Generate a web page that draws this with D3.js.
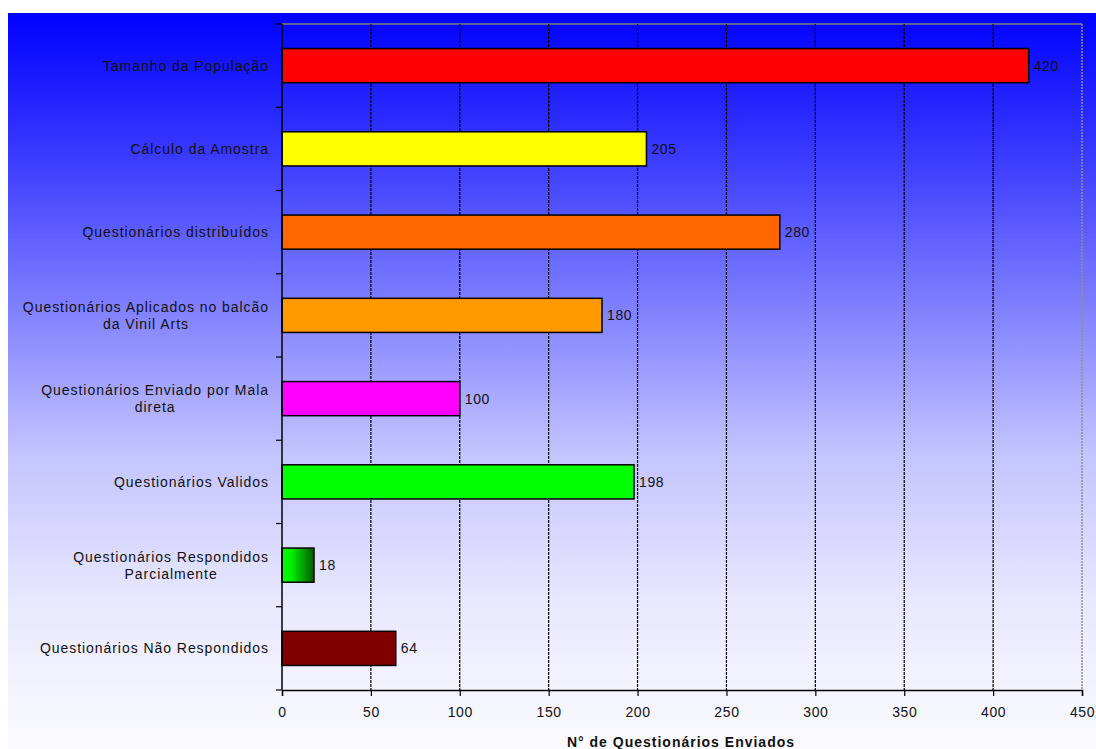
<!DOCTYPE html>
<html>
<head>
<meta charset="utf-8">
<script src="https://cdn.jsdelivr.net/npm/d3@7"></script>
<style>
  html, body { margin: 0; padding: 0; background: #fff; }
  svg text { font-family: "Liberation Sans", Arial, sans-serif; }
</style>
</head>
<body>
<div id="chart"></div>
<script>
(function () {
  'use strict';

  var categories = [
    ['Tamanho da População'],
    ['Cálculo da Amostra'],
    ['Questionários distribuídos'],
    ['Questionários Aplicados no balcão', 'da Vinil Arts'],
    ['Questionários Enviado por Mala', 'direta'],
    ['Questionários Validos'],
    ['Questionários Respondidos', 'Parcialmente'],
    ['Questionários Não Respondidos']
  ];
  var values = [420, 205, 280, 180, 100, 198, 18, 64];
  var barColors = ['#ff0000', '#ffff00', '#ff6600', '#ff9900', '#ff00ff', '#00ff00', 'url(#greenShade)', '#800000'];
  var xTicks = [0, 50, 100, 150, 200, 250, 300, 350, 400, 450];
  var xTitle = 'N° de Questionários Enviados';

  var width = 1096, height = 749;
  var margin = { top: 24, right: 14, bottom: 59, left: 282 };
  var iw = width - margin.left - margin.right;
  var ih = height - margin.top - margin.bottom;

  var svg = d3.select('#chart').append('svg').attr('width', width).attr('height', height);
  var defs = svg.append('defs');

  var bg = defs.append('linearGradient').attr('id', 'bgGrad')
    .attr('x1', 0).attr('y1', 0).attr('x2', 0).attr('y2', 1);
  [[0, '#0000ff'], [0.2, '#3c3cff'], [0.4, '#8080ff'], [0.6, '#c4c4ff'], [0.8, '#e8e8ff'], [1, '#fbfbff']]
    .forEach(function (s) { bg.append('stop').attr('offset', s[0]).attr('stop-color', s[1]); });

  var gs = defs.append('linearGradient').attr('id', 'greenShade')
    .attr('x1', 0).attr('y1', 0).attr('x2', 1).attr('y2', 0);
  gs.append('stop').attr('offset', 0).attr('stop-color', '#00ff00');
  gs.append('stop').attr('offset', 0.3).attr('stop-color', '#00ee00');
  gs.append('stop').attr('offset', 1).attr('stop-color', '#005a00');

  // background panel
  svg.append('rect').attr('x', 8).attr('y', 13).attr('width', width - 8).attr('height', height - 13)
    .attr('fill', 'url(#bgGrad)');

  var x = d3.scaleLinear().domain([0, 450]).range([0, iw]);
  var y = d3.scaleBand().domain(d3.range(categories.length)).range([0, ih])
    .paddingInner(0.59).paddingOuter(0.295);
  var yb = d3.scaleLinear().domain([0, categories.length]).range([0, ih]);

  var g = svg.append('g').attr('transform', 'translate(' + margin.left + ',' + margin.top + ')');

  // plot border (top + right)
  g.append('line').attr('x1', 0).attr('x2', iw).attr('y1', 0).attr('y2', 0)
    .attr('stroke', '#808080').attr('stroke-width', 1.5);
  g.append('line').attr('x1', iw).attr('x2', iw).attr('y1', 0).attr('y2', ih)
    .attr('stroke', '#909090').attr('stroke-width', 1.5).attr('stroke-dasharray', '2,1');

  // gridlines
  g.selectAll('line.grid').data(xTicks.slice(1, -1)).enter().append('line')
    .attr('class', 'grid')
    .attr('x1', function (d) { return x(d); }).attr('x2', function (d) { return x(d); })
    .attr('y1', 0).attr('y2', ih)
    .attr('stroke', '#000').attr('stroke-width', 1.2).attr('stroke-dasharray', '3,1');

  // bars
  g.selectAll('rect.bar').data(values).enter().append('rect')
    .attr('class', 'bar')
    .attr('x', x(0))
    .attr('y', function (d, i) { return y(i); })
    .attr('width', function (d) { return x(d) - x(0); })
    .attr('height', y.bandwidth())
    .attr('fill', function (d, i) { return barColors[i]; })
    .attr('stroke', '#000').attr('stroke-width', 1.5);

  // value labels
  g.selectAll('text.val').data(values).enter().append('text')
    .attr('class', 'val')
    .attr('x', function (d) { return x(d) + 5; })
    .attr('y', function (d, i) { return y(i) + y.bandwidth() / 2 + 5; })
    .attr('font-size', 14).attr('letter-spacing', 0.6).attr('fill', '#111')
    .text(function (d) { return d; });

  // y axis line + ticks at category boundaries
  g.append('line').attr('x1', 0).attr('x2', 0).attr('y1', 0).attr('y2', ih)
    .attr('stroke', '#000').attr('stroke-width', 1.5);
  g.selectAll('line.ytick').data(d3.range(categories.length + 1)).enter().append('line')
    .attr('class', 'ytick')
    .attr('x1', -6).attr('x2', 0)
    .attr('y1', function (d) { return yb(d); }).attr('y2', function (d) { return yb(d); })
    .attr('stroke', '#000').attr('stroke-width', 1.2);

  // category labels (multi-line, centered within right-aligned block)
  categories.forEach(function (lines, i) {
    var cy = y(i) + y.bandwidth() / 2;
    var lh = 17;
    var t = g.append('text').attr('font-size', 14).attr('letter-spacing', 0.95).attr('fill', '#111');
    var spans = lines.map(function (ln, k) {
      return t.append('tspan').attr('y', cy + 5 + (k - (lines.length - 1) / 2) * lh).text(ln);
    });
    var widths = spans.map(function (s) { return s.node().getComputedTextLength(); });
    var maxW = d3.max(widths);
    var right = -13;
    spans.forEach(function (s) {
      s.attr('x', right - maxW / 2).attr('text-anchor', 'middle');
    });
  });

  // x axis
  var xa = g.append('g').attr('transform', 'translate(0,' + ih + ')')
    .call(d3.axisBottom(x).tickValues(xTicks).tickSize(6).tickPadding(11));
  xa.select('.domain').attr('stroke', '#000').attr('stroke-width', 1.5);
  xa.selectAll('.tick line').attr('stroke', '#000').attr('stroke-width', 1.2);
  xa.selectAll('text').attr('font-size', 14).attr('letter-spacing', 0.6).attr('fill', '#111')
    .attr('font-family', '"Liberation Sans", Arial, sans-serif');

  // x axis title
  svg.append('text')
    .attr('x', margin.left + iw / 2 - 1).attr('y', 747)
    .attr('text-anchor', 'middle')
    .attr('font-size', 14).attr('font-weight', 'bold').attr('letter-spacing', 1)
    .attr('fill', '#111')
    .text(xTitle);
})();
</script>
</body>
</html>
